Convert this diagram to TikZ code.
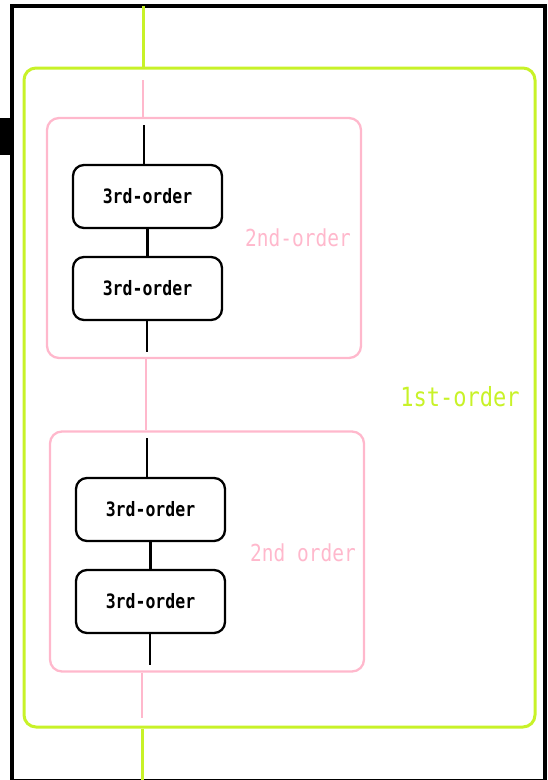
\documentclass[tikz,border=0pt]{standalone}
\usepackage{fontspec}
\usepackage{graphicx}
\setmonofont{DejaVu Sans Mono}
\usetikzlibrary{positioning}
\definecolor{limeline}{RGB}{200,242,40}
\definecolor{pinkline}{RGB}{255,184,204}
\newcommand{\tallbox}[1]{\scalebox{1}[1.2]{#1}} % gothic-style tall letters
\tikzset{
	x=1pt, y=-1pt, % one unit per pixel, y running down
	every node/.style={font=\ttfamily},
	first/.style={draw=limeline, line width=3pt, rounded corners=12pt, minimum width=511pt, minimum height=659pt},
	second/.style={draw=pinkline, line width=2.3pt, rounded corners=12pt, minimum width=314pt, minimum height=240pt},
	third/.style={draw, line width=2.3pt, rounded corners=11pt, minimum width=149pt, minimum height=63pt, font=\ttfamily\bfseries\fontsize{16.5}{16.5}\selectfont},
	firstlabel/.style={text=limeline, font=\ttfamily\fontsize{22}{22}\selectfont},
	secondlabel/.style={text=pinkline, font=\ttfamily\fontsize{19.5}{20}\selectfont},
	limewire/.style={draw=limeline, line width=3pt},
	pinkwire/.style={draw=pinkline, line width=2.3pt},
	blackwire/.style={draw, line width=2.3pt},
}
\begin{document}
\begin{tikzpicture}
	\useasboundingbox (0,0) rectangle (547,780);
	% outer frame and the tab on its left side
	\draw[line width=3.5pt] (12,781) -- (12,6) -- (545,6) -- (545,781) -- cycle;
	\fill (0,118) rectangle (12,155);

	\node[first] (fo) at (279.5,397.5) {};
	\node[second] (soA) at (204,238) {};
	\node[second] (soB) at (207,551.5) {};
	\node[third] (toA1) at (147.5,196.5) {\tallbox{3rd-order}};
	\node[third] (toA2) at (147.5,288.5) {\tallbox{3rd-order}};
	\node[third] (toB1) at (150.5,509.5) {\tallbox{3rd-order}};
	\node[third] (toB2) at (150.5,601.5) {\tallbox{3rd-order}};

	\node[secondlabel] (lblA) at (298,238) {\tallbox{2nd-order}};
	\node[secondlabel] (lblB) at (303,553) {\tallbox{2nd order}};
	\node[firstlabel] (lblF) at (460,397) {\tallbox{1st-order}};

	\coordinate (inF) at (143,6);
	\coordinate (outF) at (142,781);
	\coordinate (inA) at (143,80);
	\coordinate (outB) at (142,718);
	\coordinate (inA3) at (144,125);
	\coordinate (outA3) at (147,352);
	\coordinate (inB3) at (147,438);
	\coordinate (outB3) at (150,665);

	\draw[limewire] (inF) -- (inF |- fo.north);
	\draw[limewire] (outF |- fo.south) -- (outF);
	\draw[pinkwire] (inA) -- (inA |- soA.north);
	\draw[pinkwire] (soA.south -| 146,0) -- (soB.north -| 146,0);
	\draw[pinkwire] (outB |- soB.south) -- (outB);
	\draw[blackwire] (inA3) -- (inA3 |- toA1.north);
	\draw[blackwire] (toA1) -- (toA2);
	\draw[blackwire] (outA3 |- toA2.south) -- (outA3);
	\draw[blackwire] (inB3) -- (inB3 |- toB1.north);
	\draw[blackwire] (toB1) -- (toB2);
	\draw[blackwire] (outB3 |- toB2.south) -- (outB3);
\end{tikzpicture}
\end{document}
